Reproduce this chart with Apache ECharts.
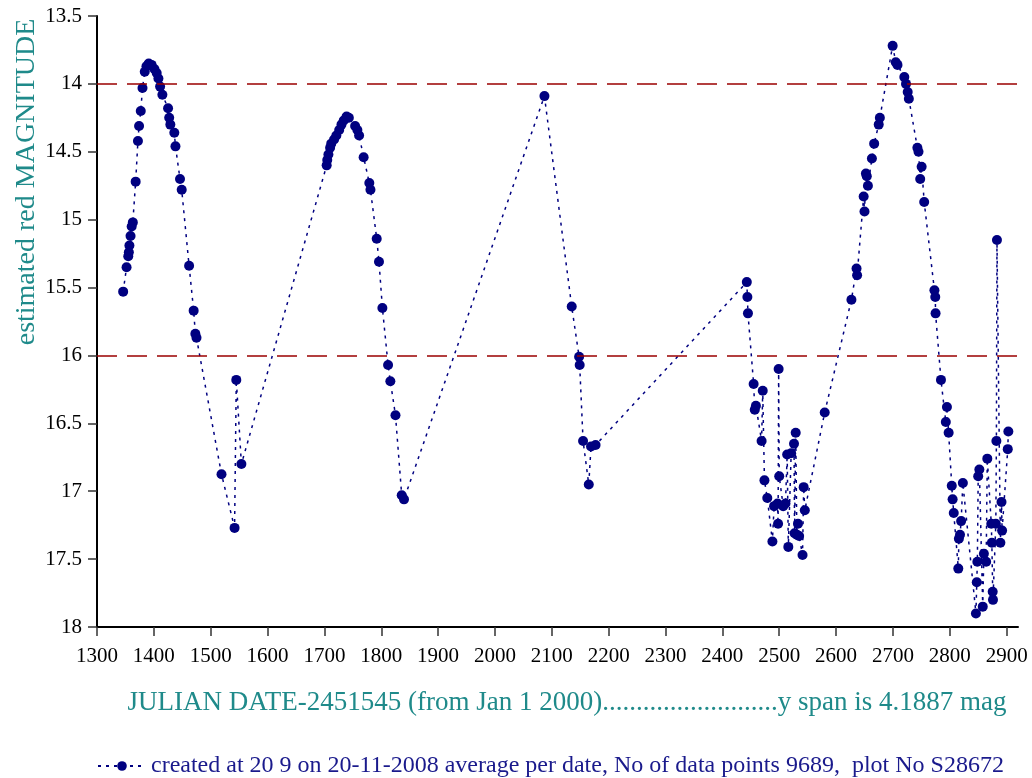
<!DOCTYPE html>
<html>
<head>
<meta charset="utf-8">
<script src="https://cdn.jsdelivr.net/npm/echarts@6/dist/echarts.min.js"></script>
<style>
html,body{margin:0;padding:0;background:#fff;}
#chart{width:1032px;height:778px;}
</style>
</head>
<body>
<div id="chart"></div>
<script>
// Julian date - 2451545
var julianDays = [
  1346,1352,1355,1356,1357,1359,1361,1363,1368,1372,1374,1377,1380,1384,1387,1391,1396,1401,1405,1408,
  1411,1415,1425,1427,1429,1436,1438,1446,1449,1462,1470,1473,1475,1519,1542,1545,1554,
  1704,1705,1707,1710,1712,1717,1721,1726,1730,1734,1739,1743,1754,1758,1761,1769,1779,1781,1792,1796,
  1802,1812,1816,1825,1836,1840,
  2087,2135,2148,2149,2155,2165,2169,2177,
  2443,2444,2445,2455,2457,2459,2469,2471,2474,2479,2488,2491,2497,2498,2499,2500,2507,2511,2514,2516,
  2521,2526,2527,2529,2531,2533,2535,2541,2543,2545,2580,
  2627,2636,2637,2648.5,2650,2652.5,2654,2656,2663,2667,2675,2677,2699.5,2705,2708,2720,2723,2726,2728,
  2743,2745,2748,2750.5,2755,2773,2774.5,2775,2784.5,
  2793,2795,2798,2803.5,2805,2807,2815,2816,2818,2820,2823,2846,2847.5,2848.5,2850,2852,2858,2860,2864,
  2866,2873,2874,2875.5,2876,2881,2882,2883,2889,2891,2892,2902,2903
];
// estimated red magnitude
var magnitudes = [
  15.53,15.35,15.27,15.24,15.19,15.12,15.05,15.02,14.72,14.42,14.31,14.20,14.03,13.91,13.87,13.85,13.86,13.89,13.92,13.96,
  14.02,14.08,14.18,14.25,14.30,14.36,14.46,14.70,14.78,15.34,15.67,15.84,15.87,16.875,17.27,16.18,16.80,
  14.60,14.56,14.52,14.47,14.44,14.41,14.38,14.34,14.30,14.27,14.24,14.25,14.31,14.34,14.38,14.54,14.73,14.78,15.14,15.31,
  15.65,16.07,16.19,16.44,17.03,17.06,
  14.09,15.64,16.01,16.07,16.63,16.95,16.67,16.66,
  15.46,15.57,15.69,16.21,16.40,16.37,16.63,16.26,16.92,17.05,17.37,17.11,17.09,17.24,16.10,16.89,17.11,17.09,16.73,17.41,
  16.72,16.65,17.31,16.57,17.32,17.24,17.33,17.47,16.97,17.14,16.42,
  15.59,15.36,15.41,14.83,14.94,14.66,14.68,14.75,14.55,14.44,14.30,14.25,13.72,13.84,13.86,13.95,14.00,14.06,14.11,
  14.47,14.50,14.70,14.61,14.87,15.52,15.57,15.69,16.18,
  16.49,16.38,16.57,16.96,17.06,17.16,17.57,17.35,17.32,17.22,16.94,17.90,17.67,17.52,16.89,16.84,17.85,17.46,17.52,
  16.76,17.24,17.38,17.74,17.80,17.24,16.63,15.15,17.38,17.08,17.29,16.69,16.56
];
var referenceLevels = [14, 16];
var xTickValues = [1300,1400,1500,1600,1700,1800,1900,2000,2100,2200,2300,2400,2500,2600,2700,2800,2900];
var seriesName = 'created at 20 9 on 20-11-2008 average per date, No of data points 9689,  plot No S28672';
var xTitle = 'JULIAN DATE-2451545 (from Jan 1 2000)..........................y span is 4.1887 mag';
var yTitle = 'estimated red MAGNITUDE';

var points = julianDays.map(function (d, i) { return [d, magnitudes[i]]; });

var serif = "'Liberation Serif','DejaVu Serif',serif";
var teal = '#1f8a8a';
var navy = '#000080';

var chart = echarts.init(document.getElementById('chart'));
chart.setOption({
  animation: false,
  backgroundColor: '#ffffff',
  grid: { left: 97, right: 14, top: 16, bottom: 151, containLabel: false },
  xAxis: {
    type: 'value',
    min: 1300,
    max: 2920,
    interval: 100,
    axisLine: { show: true, onZero: false, lineStyle: { color: '#000', width: 2 } },
    axisTick: { show: true, length: 9, customValues: xTickValues, lineStyle: { color: '#333', width: 1.5 } },
    axisLabel: {
      customValues: xTickValues, margin: 19, color: '#000', fontSize: 21, fontFamily: serif,
      formatter: function (v) { return String(v); }
    },
    splitLine: { show: false }
  },
  yAxis: {
    type: 'value',
    inverse: true,
    min: 13.5,
    max: 18,
    interval: 0.5,
    axisLine: { show: true, onZero: false, lineStyle: { color: '#000', width: 2 } },
    axisTick: { show: true, length: 9, lineStyle: { color: '#333', width: 1.5 } },
    axisLabel: {
      margin: 15, color: '#000', fontSize: 21, fontFamily: serif,
      formatter: function (v) { return String(v); }
    },
    splitLine: { show: false }
  },
  legend: {
    left: 92,
    top: 749,
    itemWidth: 48,
    itemHeight: 12,
    itemGap: 4,
    textStyle: { color: '#1a1a8c', fontSize: 24, fontFamily: serif },
    data: [seriesName]
  },
  graphic: [
    {
      type: 'text',
      x: 27, y: 182,
      rotation: Math.PI / 2,
      style: { text: yTitle, fill: teal, font: '28px ' + serif, textAlign: 'center', textVerticalAlign: 'middle' }
    },
    {
      type: 'text',
      x: 567, y: 703,
      style: { text: xTitle, fill: teal, font: '27px ' + serif, textAlign: 'center', textVerticalAlign: 'middle' }
    }
  ],
  series: [{
    name: seriesName,
    type: 'line',
    data: points,
    symbol: 'circle',
    symbolSize: 10,
    itemStyle: { color: navy },
    lineStyle: { color: navy, width: 1.5, type: [3, 5] },
    markLine: {
      silent: true,
      symbol: ['none', 'none'],
      label: { show: false },
      lineStyle: { color: '#9a0000', width: 1.5, type: [20, 10] },
      data: referenceLevels.map(function (v) { return { yAxis: v }; })
    }
  }]
});
</script>
</body>
</html>
